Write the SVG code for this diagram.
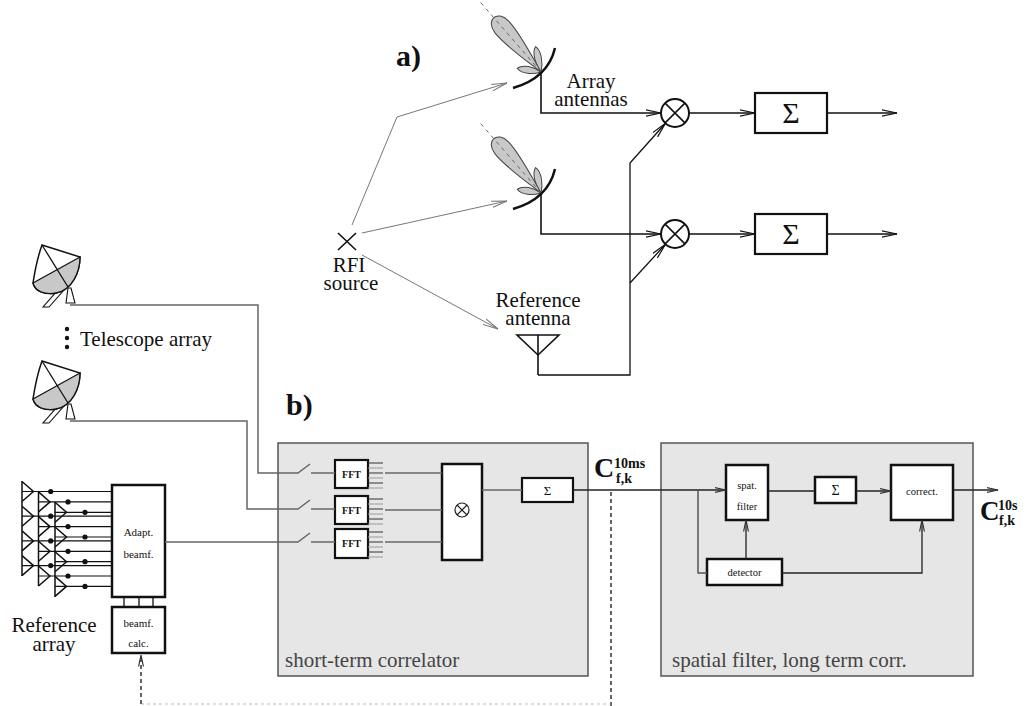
<svg xmlns="http://www.w3.org/2000/svg" xmlns:xlink="http://www.w3.org/1999/xlink" width="1025" height="706" viewBox="0 0 1025 706">
<style>
  text { font-family: "Liberation Serif", "Times New Roman", serif; fill: #111; }
  .lbl { font-size: 21px; }
  .mid { text-anchor: middle; }
  .hd { font-size: 30px; font-weight: bold; }
  .thin { fill: none; stroke: #111; stroke-width: 1.3; }
  .ray { fill: none; stroke: #777; stroke-width: 1; }
  .wire { fill: none; stroke: #666; stroke-width: 1.5; }
  .blk { fill: #fff; stroke: #111; stroke-width: 2.5; }
  .panel { fill: #e6e6e6; stroke: #555; stroke-width: 1.5; }
  .small { font-size: 11px; text-anchor: middle; }
  .plabel { font-size: 21px; fill: #444; }
  .cb { font-weight: bold; }
  .lobe { fill: #c8c8c8; stroke: #444; stroke-width: 1; }
  .arc { fill: none; stroke: #111; stroke-width: 2.5; }
  .dash { fill: none; stroke: #111; stroke-width: 1.3; stroke-dasharray: 4 3; }
</style>
<defs>
  <marker id="arrA" markerUnits="userSpaceOnUse" viewBox="0 0 16 8" markerWidth="16" markerHeight="8" refX="15.5" refY="4" orient="auto">
    <path d="M0,0.8 L15.5,4 L0,7.2" fill="none" stroke="#111" stroke-width="1.2"/>
  </marker>
  <marker id="arrR" markerUnits="userSpaceOnUse" viewBox="0 0 16 8" markerWidth="16" markerHeight="8" refX="15.5" refY="4" orient="auto">
    <path d="M0,0.8 L15.5,4 L0,7.2" fill="none" stroke="#777" stroke-width="1"/>
  </marker>
  <marker id="arrB" markerUnits="userSpaceOnUse" viewBox="0 0 12 6" markerWidth="12" markerHeight="6" refX="11.5" refY="3" orient="auto">
    <path d="M0,0.6 L11.5,3 L0,5.4" fill="none" stroke="#333" stroke-width="1.2"/>
  </marker>
  <!-- antenna beam pattern: main lobe along -y, two side lobes -->
  <g id="beam">
    <path class="lobe" transform="rotate(29)" d="M0,0 C-4,-8 -5,-21 0,-26 C5,-21 4,-8 0,0Z"/>
    <path class="lobe" transform="rotate(-40)" d="M0,0 C-4,-8 -5,-19 0,-24 C5,-19 4,-8 0,0Z"/>
    <path class="lobe" d="M0,0 C-4,-20 -10,-45 -9,-60 C-8,-76 8,-76 9,-60 C10,-45 4,-20 0,0Z"/>
    <line x1="0" y1="0" x2="0" y2="-92" stroke="#666" stroke-width="0.9" stroke-dasharray="4 4"/>
  </g>
  <!-- radio telescope dish on its mount -->
  <g id="telescope">
    <path d="M61,287 L59,289 L43,307 L49,307 L64,290 Z" fill="#fff" stroke="#111" stroke-width="1.1"/>
    <path d="M68,288 L66,303 L75,303 L71,288 Z" fill="#fff" stroke="#111" stroke-width="1.1"/>
    <path d="M42,245 L80,257 C80,272 72,290 56,293 C44,295 35,291 33,283 C35,270 38,256 42,245 Z" fill="#fff" stroke="#111" stroke-width="1.5"/>
    <path d="M33,283 L80,257 C80,272 72,290 56,293 C44,295 35,291 33,283 Z" fill="#c8c8c8" stroke="#111" stroke-width="1.3"/>
    <path d="M42,245 L68,287" fill="none" stroke="#111" stroke-width="1.3"/>
  </g>
</defs>

<rect width="1025" height="706" fill="#fff"/>

<!-- ===== a) ===== -->
<text class="hd" x="396" y="66">a)</text>

<g id="array-antenna-1">
  <use xlink:href="#beam" href="#beam" transform="translate(541,72) rotate(-41)"/>
  <path class="arc" d="M513,88 Q548,78 555,48"/>
</g>
<g id="array-antenna-2">
  <use xlink:href="#beam" href="#beam" transform="translate(541,193) rotate(-41)"/>
  <path class="arc" d="M513,209 Q548,199 555,169"/>
</g>
<g id="array-antennas-label">
  <text class="lbl mid" x="591" y="88">Array</text>
  <text class="lbl mid" x="591" y="106">antennas</text>
</g>

<g id="rfi-source">
  <path d="M338,233 L356,250 M356,233 L338,250" stroke="#111" stroke-width="1.6" fill="none"/>
  <text class="lbl mid" x="349" y="272">RFI</text>
  <text class="lbl mid" x="351" y="290">source</text>
</g>

<g id="reference-antenna">
  <path d="M517,335 L559,335 L538,355 Z" fill="none" stroke="#111" stroke-width="1.6"/>
  <line x1="538" y1="335" x2="538" y2="375" stroke="#111" stroke-width="1.6"/>
  <text class="lbl mid" x="538" y="307">Reference</text>
  <text class="lbl mid" x="538" y="325">antenna</text>
</g>

<g id="multiplier-1">
  <circle cx="675" cy="113" r="14" fill="#fff" stroke="#111" stroke-width="2"/>
  <path d="M665.1,103.1 L684.9,122.9 M684.9,103.1 L665.1,122.9" stroke="#111" stroke-width="1.5"/>
</g>
<g id="multiplier-2">
  <circle cx="675" cy="234" r="14" fill="#fff" stroke="#111" stroke-width="2"/>
  <path d="M665.1,224.1 L684.9,243.9 M684.9,224.1 L665.1,243.9" stroke="#111" stroke-width="1.5"/>
</g>
<g id="sum-1">
  <rect class="blk" x="755" y="93" width="72" height="40" style="stroke-width:2.2"/>
  <text class="mid" x="791" y="123" font-size="30">Σ</text>
</g>
<g id="sum-2">
  <rect class="blk" x="755" y="214" width="72" height="40" style="stroke-width:2.2"/>
  <text class="mid" x="791" y="244" font-size="30">Σ</text>
</g>

<g id="connectors-a">
  <polyline class="ray" points="352,225 397,117 507,83" marker-end="url(#arrR)"/>
  <line class="ray" x1="362" y1="233" x2="507" y2="201" marker-end="url(#arrR)"/>
  <line class="ray" x1="362" y1="255" x2="498" y2="329" marker-end="url(#arrR)"/>
  <polyline class="thin" points="541,72 541,113 661,113" style="stroke-width:1.6" marker-end="url(#arrA)"/>
  <polyline class="thin" points="541,193 541,234 661,234" style="stroke-width:1.6" marker-end="url(#arrA)"/>
  <polyline class="thin" points="538,375 630,375 630,163 665.5,123.2" marker-end="url(#arrA)"/>
  <line class="thin" x1="630" y1="283" x2="665.5" y2="244.3" marker-end="url(#arrA)"/>
  <line class="thin" x1="689" y1="113" x2="755" y2="113" marker-end="url(#arrA)"/>
  <line class="thin" x1="689" y1="234" x2="755" y2="234" marker-end="url(#arrA)"/>
  <line class="thin" x1="827" y1="113" x2="897" y2="113" marker-end="url(#arrA)"/>
  <line class="thin" x1="827" y1="234" x2="897" y2="234" marker-end="url(#arrA)"/>
</g>

<!-- ===== b) ===== -->
<text class="hd" x="286" y="415">b)</text>

<g id="telescope-1"><use xlink:href="#telescope" href="#telescope"/></g>
<g id="telescope-2"><use xlink:href="#telescope" href="#telescope" transform="translate(0,116)"/></g>
<g id="telescope-array-label">
  <circle cx="67" cy="329" r="2.2" fill="#111"/>
  <circle cx="67" cy="338" r="2.2" fill="#111"/>
  <circle cx="67" cy="347" r="2.2" fill="#111"/>
  <text class="lbl" x="80" y="346">Telescope array</text>
</g>

<!-- reference array: 3 staggered columns of 4 elements -->
<g id="reference-array" stroke="#111" stroke-width="1.5" fill="none">
  <path d="M22,481 V576 M38.5,492 V586 M55,502 V597"/>
  <path d="M22,481.5 L33.5,491.5 L22,501.5 M22,506.2 L33.5,516.2 L22,526.2 M22,530.9 L33.5,540.9 L22,550.9 M22,555.6 L33.5,565.6 L22,575.6"/>
  <path d="M38.5,491.9 L50,501.9 L38.5,511.9 M38.5,516.6 L50,526.6 L38.5,536.6 M38.5,541.3 L50,551.3 L38.5,561.3 M38.5,566 L50,576 L38.5,586"/>
  <path d="M55,502.3 L66.5,512.3 L55,522.3 M55,527 L66.5,537 L55,547 M55,551.7 L66.5,561.7 L55,571.7 M55,576.4 L66.5,586.4 L55,596.4"/>
  <path stroke-width="1.2" d="M22,491.5 H112 M22,516.2 H112 M22,540.9 H112 M22,565.6 H112 M38.5,501.9 H112 M38.5,526.6 H112 M38.5,551.3 H112 M38.5,576 H112 M55,512.3 H112 M55,537 H112 M55,561.7 H112 M55,586.4 H112"/>
  <g fill="#111" stroke="none">
    <circle cx="50.7" cy="491.5" r="2.6"/><circle cx="50.7" cy="516.2" r="2.6"/><circle cx="50.7" cy="540.9" r="2.6"/><circle cx="50.7" cy="565.6" r="2.6"/>
    <circle cx="68" cy="501.9" r="2.6"/><circle cx="68" cy="526.6" r="2.6"/><circle cx="68" cy="551.3" r="2.6"/><circle cx="68" cy="576" r="2.6"/>
    <circle cx="85" cy="512.3" r="2.6"/><circle cx="85" cy="537" r="2.6"/><circle cx="85" cy="561.7" r="2.6"/><circle cx="85" cy="586.4" r="2.6"/>
  </g>
</g>
<g id="reference-array-label">
  <text class="lbl mid" x="54" y="632">Reference</text>
  <text class="lbl mid" x="54" y="651">array</text>
</g>
<g id="adaptive-beamformer">
  <rect class="blk" x="112" y="485" width="53" height="112"/>
  <text class="small" x="138.5" y="536">Adapt.</text>
  <text class="small" x="138.5" y="558">beamf.</text>
</g>
<g id="beamformer-calc">
  <rect class="blk" x="112" y="607" width="53" height="46"/>
  <text class="small" x="138.5" y="627">beamf.</text>
  <text class="small" x="138.5" y="647">calc.</text>
</g>

<g id="short-term-correlator">
  <rect class="panel" x="278" y="443" width="310" height="233"/>
  <text class="plabel" x="285" y="667">short-term correlator</text>
</g>
<g id="fft-1">
  <rect class="blk" x="335" y="460" width="33" height="28" style="stroke-width:2.2"/>
  <text class="small cb" x="351.5" y="478" style="font-size:10px">FFT</text>
  <path d="M368,463 H383 M368,473 H383 M368,483 H383" stroke="#333" stroke-width="1.2"/>
  <path d="M368,468 H383 M368,478 H383 M368,488 H383" stroke="#999" stroke-width="1.2"/>
</g>
<g id="fft-2">
  <rect class="blk" x="335" y="496" width="33" height="28" style="stroke-width:2.2"/>
  <text class="small cb" x="351.5" y="514" style="font-size:10px">FFT</text>
  <path d="M368,499 H383 M368,509 H383 M368,519 H383" stroke="#333" stroke-width="1.2"/>
  <path d="M368,504 H383 M368,514 H383 M368,524 H383" stroke="#999" stroke-width="1.2"/>
</g>
<g id="fft-3">
  <rect class="blk" x="335" y="529" width="33" height="29" style="stroke-width:2.2"/>
  <text class="small cb" x="351.5" y="547" style="font-size:10px">FFT</text>
  <path d="M368,532 H383 M368,542 H383 M368,552 H383" stroke="#333" stroke-width="1.2"/>
  <path d="M368,537 H383 M368,547 H383 M368,557 H383" stroke="#999" stroke-width="1.2"/>
</g>
<g id="cross-multiplier">
  <rect class="blk" x="442" y="464" width="40" height="96"/>
  <circle cx="462" cy="510" r="7" fill="none" stroke="#222" stroke-width="1.2"/>
  <path d="M457,505 L467,515 M467,505 L457,515" stroke="#222" stroke-width="1.2"/>
</g>
<g id="short-term-sum">
  <rect class="blk" x="522" y="478" width="51" height="24" style="stroke-width:2.2"/>
  <text class="mid" x="547.5" y="494.5" font-size="13">Σ</text>
</g>

<g id="c10ms-label">
  <text class="cb" x="594" y="477" font-size="28">C</text>
  <text class="cb" x="614" y="468" font-size="14">10ms</text>
  <text class="cb" x="616" y="483" font-size="14">f,k</text>
</g>

<g id="spatial-filter-long-term">
  <rect class="panel" x="661" y="443" width="312" height="233"/>
  <text class="plabel" x="672" y="667">spatial filter, long term corr.</text>
</g>
<g id="spatial-filter">
  <rect class="blk" x="726" y="465" width="42" height="55"/>
  <text class="small" x="747" y="489" style="font-size:10.5px">spat.</text>
  <text class="small" x="747" y="510" style="font-size:10.5px">filter</text>
</g>
<g id="long-term-sum">
  <rect class="blk" x="815" y="477" width="41" height="26"/>
  <text class="mid" x="835.5" y="495" font-size="14">Σ</text>
</g>
<g id="correction">
  <rect class="blk" x="891" y="465" width="62" height="55"/>
  <text class="small" x="922" y="495" style="font-size:10.5px">correct.</text>
</g>
<g id="detector">
  <rect class="blk" x="707" y="559" width="75" height="26"/>
  <text class="small" x="744.5" y="576" style="font-size:10.5px">detector</text>
</g>

<g id="c10s-label">
  <text class="cb" x="980" y="520" font-size="27">C</text>
  <text class="cb" x="998" y="510" font-size="14">10s</text>
  <text class="cb" x="999" y="525" font-size="14">f,k</text>
</g>

<g id="connectors-b">
  <!-- telescope and beamformer feeds with input switches -->
  <polyline class="wire" points="70,305 258,305 258,473 298,473 310,464"/>
  <line class="wire" x1="311" y1="473" x2="335" y2="473"/>
  <polyline class="wire" points="70,421 247,421 247,509 298,509 310,500"/>
  <line class="wire" x1="311" y1="509" x2="335" y2="509"/>
  <polyline class="wire" points="165,542 298,542 310,533"/>
  <line class="wire" x1="311" y1="542" x2="335" y2="542"/>
  <!-- spectra into correlator -->
  <line class="wire" x1="385" y1="473" x2="442" y2="473"/>
  <line class="wire" x1="385" y1="510" x2="442" y2="510"/>
  <line class="wire" x1="385" y1="542" x2="442" y2="542"/>
  <line class="wire" x1="482" y1="490" x2="522" y2="490"/>
  <!-- beamformer internal links -->
  <path d="M124,597 V607 M139,597 V607 M153,597 V607" stroke="#111" stroke-width="1.3"/>
  <!-- short-term output to spatial filter -->
  <line x1="573" y1="490" x2="726" y2="490" stroke="#222" stroke-width="1.4" marker-end="url(#arrB)"/>
  <polyline class="wire" points="698,490 698,573 707,573" style="stroke:#555"/>
  <line x1="746" y1="559" x2="746" y2="520" stroke="#222" stroke-width="1.3" marker-end="url(#arrB)"/>
  <polyline points="782,573 922,573 922,520" fill="none" stroke="#222" stroke-width="1.3" marker-end="url(#arrB)"/>
  <line x1="768" y1="491" x2="815" y2="491" stroke="#222" stroke-width="1.3"/>
  <line x1="856" y1="491" x2="891" y2="491" stroke="#222" stroke-width="1.3" marker-end="url(#arrB)"/>
  <line x1="953" y1="490" x2="998" y2="490" stroke="#222" stroke-width="1.3" marker-end="url(#arrB)"/>
  <!-- feedback path to beamformer calculation -->
  <line class="dash" x1="611" y1="492" x2="611" y2="706"/>
  <line x1="141" y1="704" x2="611" y2="704" stroke="#bbb" stroke-width="1" stroke-dasharray="3 3"/>
  <line class="dash" x1="141" y1="704" x2="141" y2="655" marker-end="url(#arrB)"/>
</g>
</svg>
